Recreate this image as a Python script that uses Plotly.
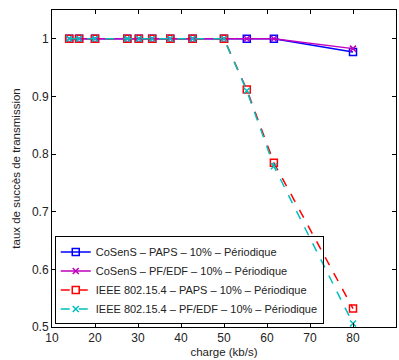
import plotly.graph_objects as go

charge = [14, 16.3, 20, 27.5, 30.2, 33.3, 37.5, 42.7, 50, 55.3, 61.6, 80]
cosens_paps = [1, 1, 1, 1, 1, 1, 1, 1, 1, 1, 1, 0.977]
cosens_pfedf = [1, 1, 1, 1, 1, 1, 1, 1, 1, 1, 1, 0.983]
ieee_paps = [1, 1, 1, 1, 1, 1, 1, 1, 1, 0.912, 0.785, 0.532]
ieee_pfedf = [1, 1, 1, 1, 1, 1, 1, 1, 1, 0.91, 0.779, 0.506]

names = [
    "CoSenS – PAPS – 10% – Périodique",
    "CoSenS – PF/EDF – 10% – Périodique",
    "IEEE 802.15.4 – PAPS – 10% – Périodique",
    "IEEE 802.15.4 – PF/EDF – 10% – Périodique",
]
x_ticks = [10, 20, 30, 40, 50, 60, 70, 80, 90]
y_ticks = [0.5, 0.6, 0.7, 0.8, 0.9, 1]

fig = go.Figure()
fig.add_trace(go.Scatter(x=charge, y=cosens_paps, name=names[0], mode="lines+markers",
                         line=dict(color="#0000FF", width=1.5),
                         marker=dict(symbol="square-open", size=7, color="#0000FF", line=dict(width=1.5))))
fig.add_trace(go.Scatter(x=charge, y=cosens_pfedf, name=names[1], mode="lines+markers",
                         line=dict(color="#BF00BF", width=1.5),
                         marker=dict(symbol="x-thin-open", size=6, color="#BF00BF", line=dict(width=1.5, color="#BF00BF"))))
fig.add_trace(go.Scatter(x=charge, y=ieee_paps, name=names[2], mode="lines+markers",
                         line=dict(color="#FF0000", width=1.5, dash="dash"),
                         marker=dict(symbol="square-open", size=7, color="#FF0000", line=dict(width=1.5))))
fig.add_trace(go.Scatter(x=charge, y=ieee_pfedf, name=names[3], mode="lines+markers",
                         line=dict(color="#00BFBF", width=1.5, dash="dash"),
                         marker=dict(symbol="x-thin-open", size=6, color="#00BFBF", line=dict(width=1.5, color="#00BFBF"))))

axis_common = dict(showline=True, linecolor="black", linewidth=1, mirror="ticks",
                   ticks="inside", ticklen=4, tickcolor="black", showgrid=False, zeroline=False,
                   automargin=False,
                   tickfont=dict(family="Liberation Sans, Arial", size=12, color="#222"))
fig.update_xaxes(range=[10, 90], tickvals=x_ticks, title=dict(text="charge (kb/s)", standoff=3,
                 font=dict(family="Liberation Sans, Arial", size=11.5, color="#222")), **axis_common)
fig.update_yaxes(range=[0.5, 1.05], tickvals=y_ticks, ticktext=["0.5", "0.6", "0.7", "0.8", "0.9", "1"],
                 title=dict(text="taux de succès de transmission", standoff=8,
                 font=dict(family="Liberation Sans, Arial", size=11.5, color="#222")), **axis_common)

fig.update_layout(
    width=399, height=360,
    margin=dict(l=52, r=3, t=10, b=33),
    paper_bgcolor="white", plot_bgcolor="white",
    showlegend=True,
    legend=dict(x=0.008, y=0.008, xanchor="left", yanchor="bottom",
                bgcolor="rgba(255,255,255,0)", bordercolor="black", borderwidth=1,
                font=dict(family="Liberation Sans, Arial", size=11, color="#222"),
                tracegroupgap=0, itemwidth=30),
)
fig.write_html("out.html", config={"displayModeBar": False},
               post_script="document.body.style.margin='0';")
